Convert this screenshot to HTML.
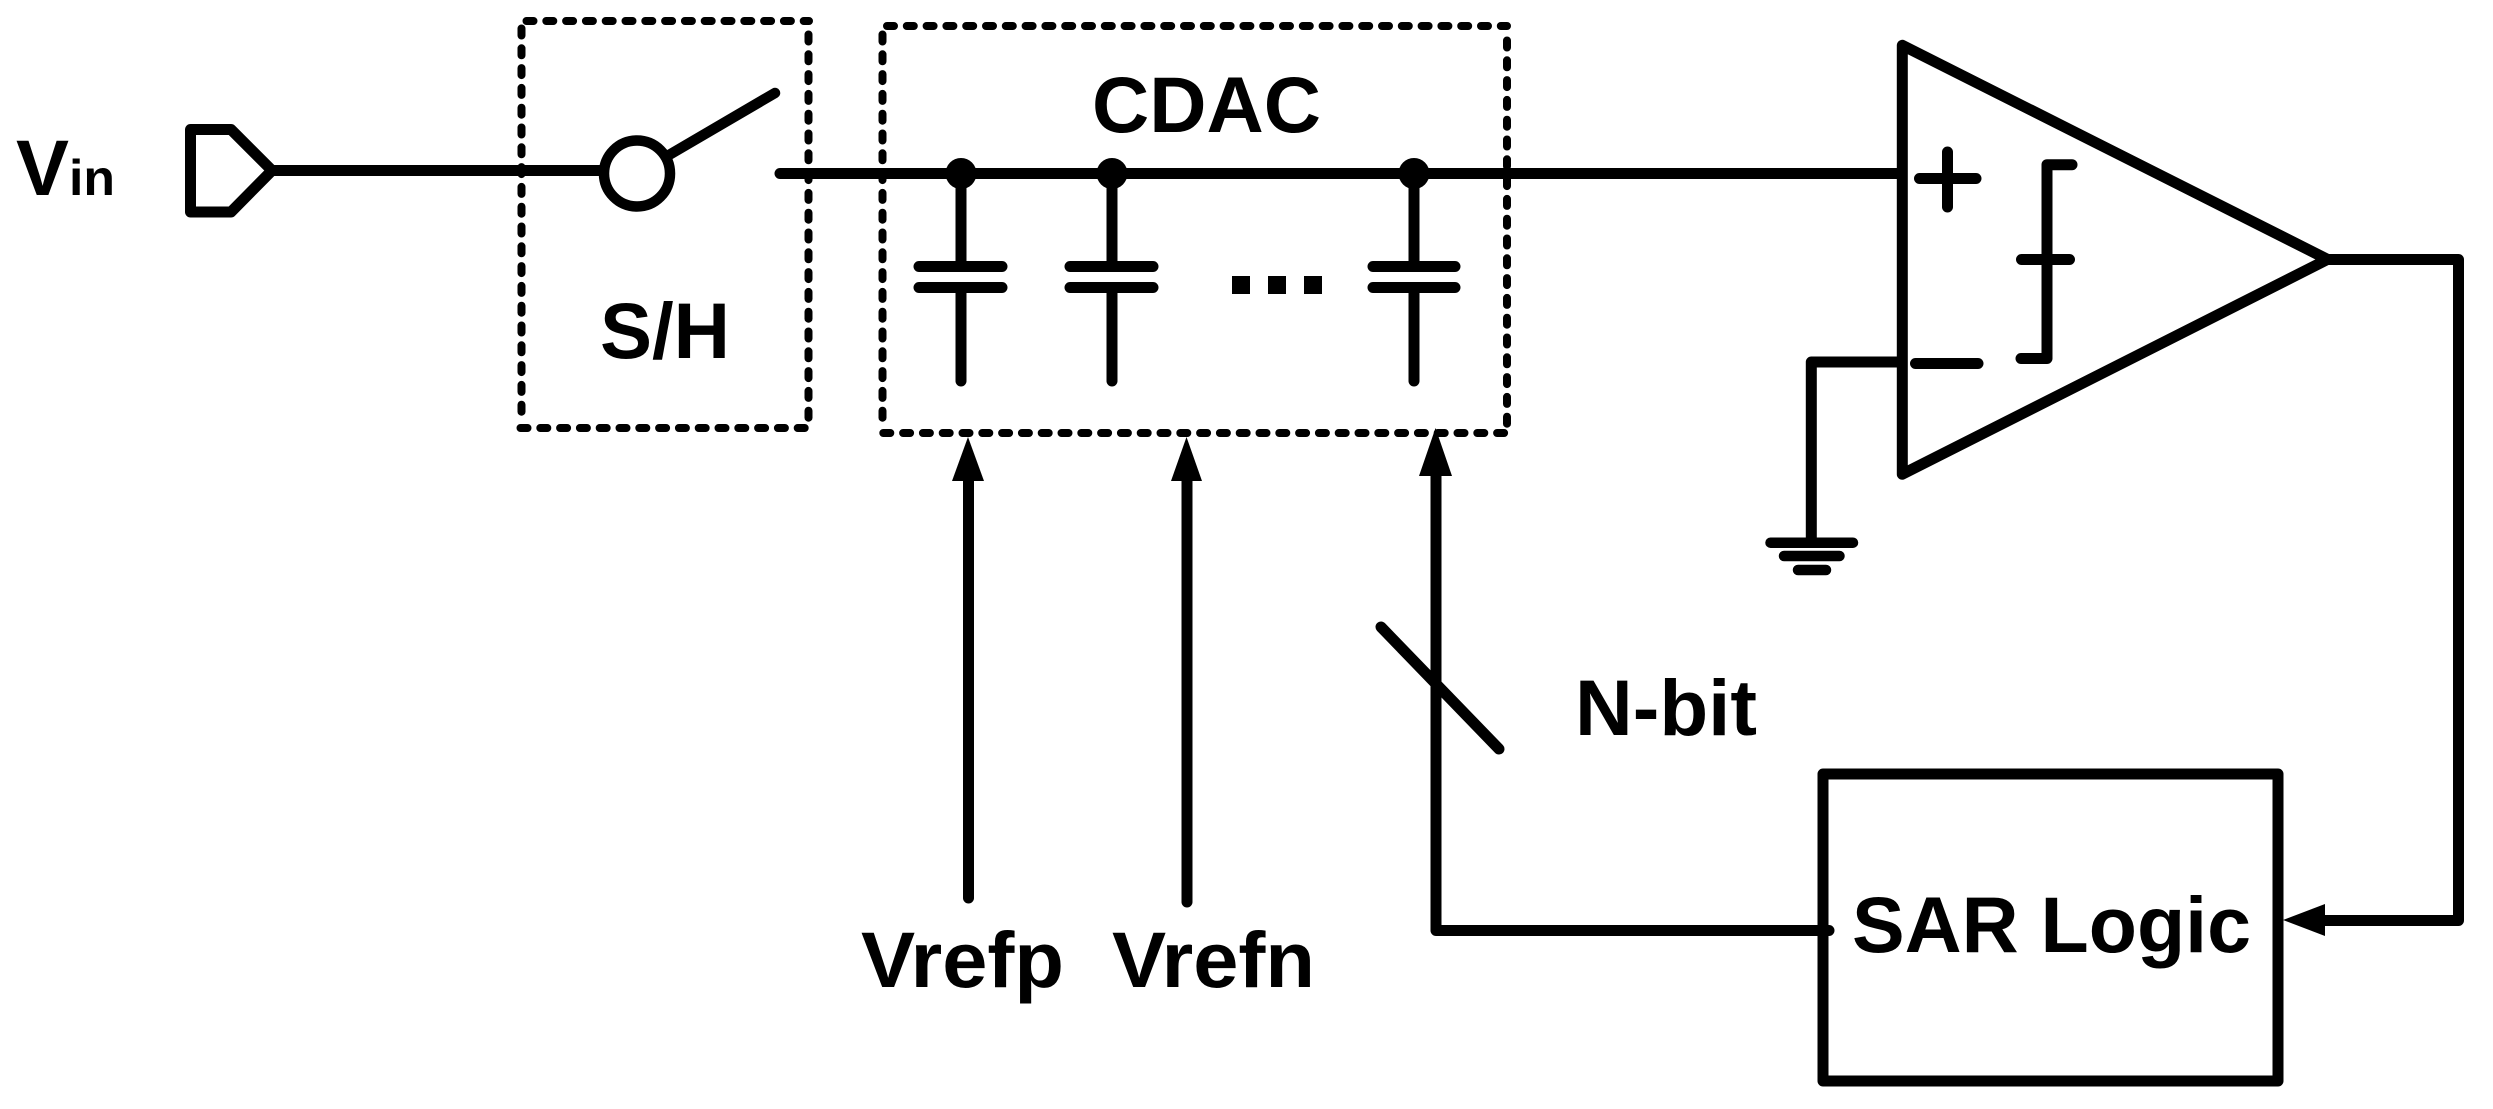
<!DOCTYPE html>
<html>
<head>
<meta charset="utf-8">
<style>
html,body{margin:0;padding:0;background:#fff;width:2493px;height:1109px;overflow:hidden}
svg{display:block}
text{font-family:"Liberation Sans",Arial,sans-serif;font-weight:bold;font-size:79px;fill:#000}
</style>
</head>
<body>
<svg width="2493" height="1109" viewBox="0 0 2493 1109" xmlns="http://www.w3.org/2000/svg">
<rect width="2493" height="1109" fill="#fff"/>

<!-- dashed boxes -->
<g fill="none" stroke="#000" stroke-width="8" stroke-linecap="round" stroke-dasharray="7 12.8">
  <path d="M526.5 21H809"/>
  <path d="M808.5 34.5V428"/>
  <path d="M521.5 28.5V424"/>
  <path d="M520.5 428H806"/>
  <path d="M887 26H1507"/>
  <path d="M1507 40.5V432"/>
  <path d="M882.5 34.5V428"/>
  <path d="M883.3 433H1506"/>
</g>

<g fill="none" stroke="#000" stroke-width="11" stroke-linecap="round" stroke-linejoin="round">
  <!-- input terminal -->
  <path d="M190.5 129.5H231L272 170.5L231 212H190.5Z"/>
  <path d="M272 170.5H600" stroke-linecap="butt"/>
  <!-- switch -->
  <circle cx="637" cy="173.5" r="33" stroke-width="10.5"/>
  <path d="M669 155L775 93" stroke-width="10.5"/>
  <!-- main wire -->
  <path d="M780 173.5H1902"/>
  <!-- capacitors -->
  <path d="M961 173V261M919 266.5H1002M919 287.5H1002M961 293V381"/>
  <path d="M1112 173V261M1070 266.5H1153M1070 287.5H1153M1112 293V381"/>
  <path d="M1414 173V261M1373 266.5H1455M1373 287.5H1455M1414 293V381"/>
  <!-- input lines -->
  <path d="M968.5 478V898"/>
  <path d="M1187 478V902"/>
  <path d="M1436 474V930.5H1829"/>
  <!-- comparator -->
  <path d="M1902.3 45.3V474.2L2327.6 259.4Z"/>
  <path d="M1919.5 178.5H1976M1947.5 152V207"/>
  <path d="M1915.5 363.5H1978"/>
  <path d="M2072 164.7H2047V358.5H2021M2021.5 259.5H2069.5"/>
  <path d="M1900 362H1811.3V540"/>
  <path d="M1770.5 542.7H1853M1784 556H1839.5M1798 570H1826" stroke-width="10.5"/>
  <!-- output feedback -->
  <path d="M2325 259.5H2458.5V920.5H2320"/>
  <!-- SAR box -->
  <rect x="1823" y="774" width="455" height="307"/>
</g>

<!-- N-bit slash -->
<path d="M1381 627L1499 749" fill="none" stroke="#000" stroke-width="11" stroke-linecap="round"/>

<!-- junctions -->
<circle cx="961" cy="173.5" r="15.5" fill="#000"/>
<circle cx="1112" cy="173.5" r="15.5" fill="#000"/>
<circle cx="1414" cy="173.5" r="15.5" fill="#000"/>

<!-- ellipsis squares -->
<rect x="1232" y="276" width="18" height="18" fill="#000"/>
<rect x="1268" y="276" width="18" height="18" fill="#000"/>
<rect x="1304" y="276" width="18" height="18" fill="#000"/>

<!-- arrowheads -->
<polygon points="968,437 984,481 952,481" fill="#000"/>
<polygon points="1186.5,437 1202,481 1171,481" fill="#000"/>
<polygon points="1435.5,428 1452,476 1419,476" fill="#000"/>
<polygon points="2283,920 2325,904 2325,936" fill="#000"/>

<!-- labels -->
<text x="16" y="195" textLength="53" lengthAdjust="spacingAndGlyphs">V</text>
<text x="69" y="195" textLength="46" lengthAdjust="spacingAndGlyphs" style="font-size:50px">in</text>
<text x="600" y="358" textLength="130" lengthAdjust="spacingAndGlyphs">S/H</text>
<text x="1092" y="132" textLength="229" lengthAdjust="spacingAndGlyphs">CDAC</text>
<text x="861" y="987" textLength="203" lengthAdjust="spacingAndGlyphs">Vrefp</text>
<text x="1112" y="987" textLength="203" lengthAdjust="spacingAndGlyphs">Vrefn</text>
<text x="1575" y="735" textLength="182" lengthAdjust="spacingAndGlyphs">N-bit</text>
<text x="1852" y="952" textLength="399" lengthAdjust="spacingAndGlyphs">SAR Logic</text>
</svg>
</body>
</html>
